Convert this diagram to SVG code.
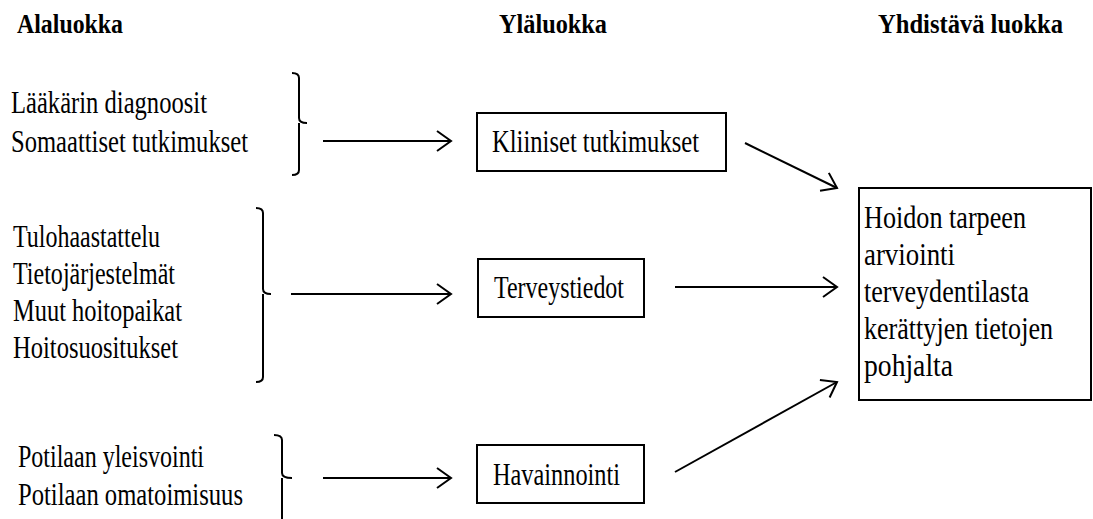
<svg xmlns="http://www.w3.org/2000/svg" width="1093" height="519" viewBox="0 0 1093 519">
<defs>
<style>
text{font-family:'Liberation Serif','DejaVu Serif',serif;fill:#000}
.h{font-weight:bold;font-size:27px}
.t{font-size:31px}
.box{fill:#fff;stroke:#000;stroke-width:2}
.br{fill:none;stroke:#000;stroke-width:2}
.ar{fill:none;stroke:#000;stroke-width:2}
</style>
<marker id="ah" viewBox="0 0 18 22" refX="16" refY="11" markerWidth="18" markerHeight="22" markerUnits="userSpaceOnUse" orient="auto">
<path d="M2,1 L16,11 L2,21" fill="none" stroke="#000" stroke-width="2"/>
</marker>
</defs>
<rect width="1093" height="519" fill="#fff"/>
<g id="headers">
<text class="h" x="17" y="33" textLength="106" lengthAdjust="spacingAndGlyphs">Alaluokka</text>
<text class="h" x="499" y="33" textLength="108" lengthAdjust="spacingAndGlyphs">Yläluokka</text>
<text class="h" x="878" y="33" textLength="185" lengthAdjust="spacingAndGlyphs">Yhdistävä luokka</text>
</g>
<g id="sub1">
<text class="t" x="11" y="113" textLength="196" lengthAdjust="spacingAndGlyphs">Lääkärin  diagnoosit</text>
<text class="t" x="11" y="152" textLength="237" lengthAdjust="spacingAndGlyphs">Somaattiset tutkimukset</text>
<path class="br" d="M292,73 Q299,73 299,78 V118 Q299,123 307,123 M299,123 Q299,128 299,130 V170 Q299,175 292,175"/>
</g>
<g id="sub2">
<text class="t" x="13" y="247" textLength="147" lengthAdjust="spacingAndGlyphs">Tulohaastattelu</text>
<text class="t" x="13" y="284" textLength="162" lengthAdjust="spacingAndGlyphs">Tietojärjestelmät</text>
<text class="t" x="13" y="321" textLength="169" lengthAdjust="spacingAndGlyphs">Muut hoitopaikat</text>
<text class="t" x="13" y="358" textLength="165" lengthAdjust="spacingAndGlyphs">Hoitosuositukset</text>
<path class="br" d="M256,208 Q263,208 263,213 V289 Q263,294 271,294 M263,294 Q263,299 263,301 V377 Q263,382 256,382"/>
</g>
<g id="sub3">
<text class="t" x="18" y="467" textLength="186" lengthAdjust="spacingAndGlyphs">Potilaan yleisvointi</text>
<text class="t" x="18" y="505" textLength="225" lengthAdjust="spacingAndGlyphs">Potilaan omatoimisuus</text>
<path class="br" d="M274,435 Q282,435 282,440 V473 Q282,478 292,478 M282,478 Q282,483 282,485 V522"/>
</g>
<g id="kliiniset">
<rect class="box" x="477" y="113" width="249" height="58"/>
<text class="t" x="492" y="152" textLength="207" lengthAdjust="spacingAndGlyphs">Kliiniset  tutkimukset</text>
</g>
<g id="terveystiedot">
<rect class="box" x="478" y="259" width="166" height="58"/>
<text class="t" x="494" y="298" textLength="130" lengthAdjust="spacingAndGlyphs">Terveystiedot</text>
</g>
<g id="havainnointi">
<rect class="box" x="477" y="445" width="167" height="58"/>
<text class="t" x="493" y="485" textLength="127" lengthAdjust="spacingAndGlyphs">Havainnointi</text>
</g>
<g id="yhdistava">
<rect class="box" x="859" y="188" width="232" height="212"/>
<text class="t" x="864" y="228" textLength="162" lengthAdjust="spacingAndGlyphs">Hoidon tarpeen</text>
<text class="t" x="864" y="265" textLength="91" lengthAdjust="spacingAndGlyphs">arviointi</text>
<text class="t" x="864" y="302" textLength="165" lengthAdjust="spacingAndGlyphs">terveydentilasta</text>
<text class="t" x="864" y="339" textLength="189" lengthAdjust="spacingAndGlyphs">kerättyjen tietojen</text>
<text class="t" x="864" y="376" textLength="89" lengthAdjust="spacingAndGlyphs">pohjalta</text>
</g>
<g id="connectors">
<line class="ar" x1="323" y1="141" x2="451" y2="141" marker-end="url(#ah)"/>
<line class="ar" x1="291" y1="294" x2="451" y2="294" marker-end="url(#ah)"/>
<line class="ar" x1="323" y1="478" x2="451" y2="478" marker-end="url(#ah)"/>
<line class="ar" x1="745" y1="143" x2="837" y2="188" marker-end="url(#ah)"/>
<line class="ar" x1="675" y1="287" x2="837" y2="287" marker-end="url(#ah)"/>
<line class="ar" x1="675" y1="472" x2="837" y2="382" marker-end="url(#ah)"/>
</g>
</svg>
